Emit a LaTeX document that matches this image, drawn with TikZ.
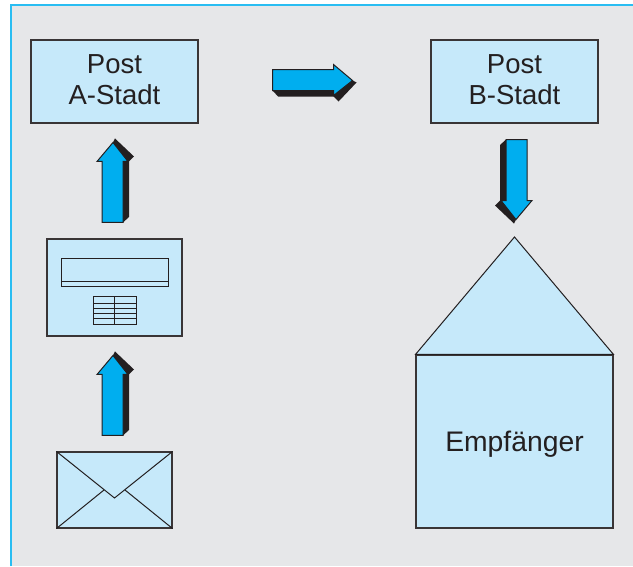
\documentclass[tikz,border=0pt]{standalone}
\usepackage{fontspec}
\setmainfont{Liberation Sans}
\definecolor{panelgray}{HTML}{E6E7E9}
\definecolor{framecyan}{HTML}{29BDF2}
\definecolor{boxblue}{HTML}{C6E9FA}
\definecolor{arrowblue}{HTML}{00AEEF}
\definecolor{inkdark}{HTML}{231F20}
\tikzset{
  plainbox/.style={draw=inkdark!90, line width=1.05pt, fill=boxblue, inner sep=0pt, align=center, text=inkdark, font=\fontsize{27.5}{31}\selectfont},
  thinline/.style={draw=inkdark, line width=1pt},
  blockarrow/.pic={
    \fill[inkdark] (0,10.5) -- (5.5,16.5) -- (61,16.5) -- (66,21.5) -- (84,2.5) -- (80,0.5) -- (61,10.5) -- cycle;
    \draw[thinline, fill=arrowblue] (0,-10.5) -- (61,-10.5) -- (61,-15.5) -- (80,0.5) -- (61,15.5) -- (61,10.5) -- (0,10.5) -- cycle;
  }
}
\begin{document}
\begin{tikzpicture}[x=1pt,y=-1pt]
\useasboundingbox (0,0) rectangle (633,566);
\fill[panelgray] (11,5) rectangle (633,566);
\draw[framecyan, line width=2.4pt] (11,566) -- (11,5) -- (633,5);
\node[plainbox, minimum width=167pt, minimum height=83pt] (postA) at (114.5,81.5) {};
\node[plainbox, minimum width=167pt, minimum height=83pt] (postB) at (514.5,81.5) {};
\node[plainbox, minimum width=135pt, minimum height=97pt] (form) at (114.5,287.5) {};
\node[plainbox, minimum width=115pt, minimum height=76pt] (letter) at (114.5,490) {};
\node[plainbox, minimum width=197pt, minimum height=173pt] (house) at (514.5,441.5) {};
\node[plainbox, draw=none, fill=none] (postAText) at ([yshift=2pt]postA.center) {Post\\A-Stadt};
\node[plainbox, draw=none, fill=none] (postBText) at ([yshift=2pt]postB.center) {Post\\B-Stadt};
\node[plainbox, draw=none, fill=none, font=\fontsize{28.3}{31}\selectfont] (houseText) at ([yshift=-3pt]house.center) {Empfänger};
\coordinate (roofTop) at (514.5,237);
\coordinate (flapTip) at (114.5,498);
\coordinate (flapLeft) at (104,490);
\coordinate (flapRight) at (125,490);
\draw[thinline, fill=boxblue] (house.north west) -- (roofTop) -- (house.north east) -- cycle;
\draw[thinline] (letter.north west) -- (flapTip) -- (letter.north east);
\draw[thinline] (letter.south west) -- (flapLeft);
\draw[thinline] (letter.south east) -- (flapRight);
\draw[thinline] (61,258) rectangle (168,286);
\draw[thinline] (61,281) -- (168,281);
\draw[thinline] (93,296) rectangle (136,324);
\draw[thinline] (114.5,296) -- (114.5,324);
\foreach \rowy in {303,308,313,318}
  \draw[thinline] (93,\rowy) -- (136,\rowy);
\pic at ([xshift=74pt,yshift=1.5pt]postA.east) {blockarrow};
\pic[rotate=90] at ([xshift=-2pt,yshift=16pt]form.north) {blockarrow};
\pic[rotate=90] at ([xshift=-2pt,yshift=16pt]letter.north) {blockarrow};
\pic[rotate=-90] at ([xshift=2pt,yshift=-16pt]postB.south) {blockarrow};
\end{tikzpicture}
\end{document}
